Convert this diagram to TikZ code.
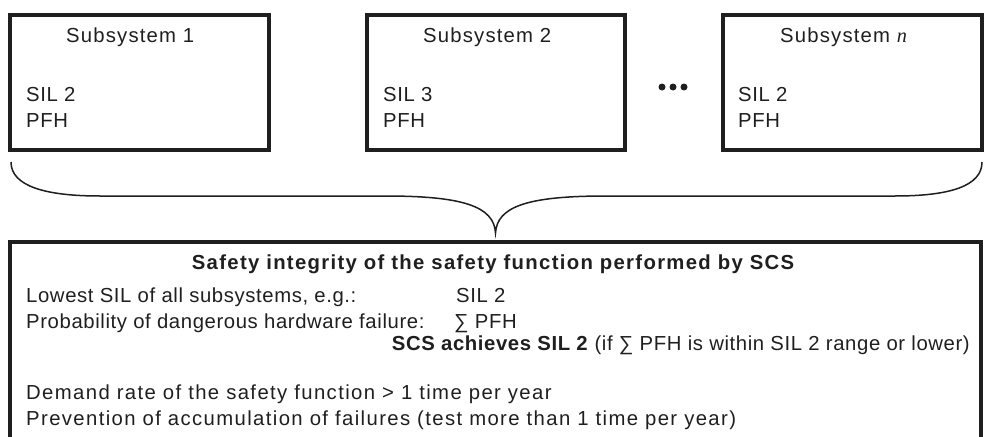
\documentclass[tikz,border=0pt]{standalone}
\usepackage{fontspec}
\setmainfont{Liberation Sans}
\newfontfamily\varserif{Liberation Serif}
\newcommand{\bodysize}{\fontsize{20.3}{25}\selectfont}
\begin{document}
\begin{tikzpicture}[x=1pt,y=-1pt,
  sysbox/.style={draw=black!88, line width=4pt, inner sep=0pt, anchor=north west,
                 minimum height=135pt},
  resbox/.style={draw=black!88, line width=4pt, inner sep=0pt, anchor=north west,
                 minimum width=971pt, minimum height=260pt},
  body/.style={anchor=base west, inner sep=0pt, text=black!88,
               font=\bodysize\addfontfeature{LetterSpace=3}},
  head/.style={body, font=\bodysize\addfontfeature{LetterSpace=5.8}},
  wide/.style={body, font=\bodysize\addfontfeature{LetterSpace=6.8}},
  brace/.style={draw=black!88, line width=1.5pt},
  dot/.style={circle, fill=black!88, inner sep=0pt, minimum size=7pt}]
\useasboundingbox (0,0) rectangle (992,436);
\clip (0,0) rectangle (992,436);

% subsystem boxes
\node[sysbox, minimum width=259pt] (s1) at (8,13) {};
\node[sysbox, minimum width=258pt] (s2) at (365,13) {};
\node[sysbox, minimum width=259pt] (sn) at (721,13) {};

\node[head] (s1t) at (66,42) {Subsystem 1};
\node[body] (s1a) at (26,101) {SIL 2};
\node[body] (s1b) at (26,127) {PFH};

\node[head] (s2t) at (423,42) {Subsystem 2};
\node[body] (s2a) at (383,101) {SIL 3};
\node[body] (s2b) at (383,127) {PFH};

\node[head] (snt) at (780,42) {Subsystem {\varserif\itshape n}};
\node[body] (sna) at (738,101) {SIL 2};
\node[body] (snb) at (738,127) {PFH};

% ellipsis between the boxes
\node[dot] (d1) at (662,87) {};
\node[dot] (d2) at (673,87) {};
\node[dot] (d3) at (684,87) {};

% curly brace gathering the subsystems
\coordinate (bl) at (11,162);
\coordinate (br) at (982,162);
\coordinate (tip) at (495.5,233);
\draw[brace] (bl) .. controls (11,186) and (45,196) .. (100,196)
  -- (385,196) .. controls (462,196) and (494,206) .. (tip)
  .. controls (497,206) and (529,196) .. (606,196)
  -- (895,196) .. controls (950,196) and (982,186) .. (br);

% resulting safety integrity
\node[resbox] (res) at (8,240) {};
\node[anchor=base, inner sep=0pt, text=black!88,
      font=\bfseries\fontsize{20.3}{25}\selectfont\addfontfeature{LetterSpace=6.5}] (rt) at (493,269)
  {Safety integrity of the safety function performed by SCS};
\node[body] (l1) at (26,302) {Lowest SIL of all subsystems, e.g.:};
\node[body] (l1v) at (456,302) {SIL 2};
\node[body] (l2) at (26,328) {Probability of dangerous hardware failure:};
\node[body] (l2v) at (454,328) {∑ PFH};
\node[body, anchor=base east] (l3) at (970,350)
  {\textbf{SCS achieves SIL 2} (if ∑ PFH is within SIL 2 range or lower)};
\node[wide] (l4) at (26,399) {Demand rate of the safety function > 1 time per year};
\node[wide] (l5) at (26,425) {Prevention of accumulation of failures (test more than 1 time per year)};
\end{tikzpicture}
\end{document}
